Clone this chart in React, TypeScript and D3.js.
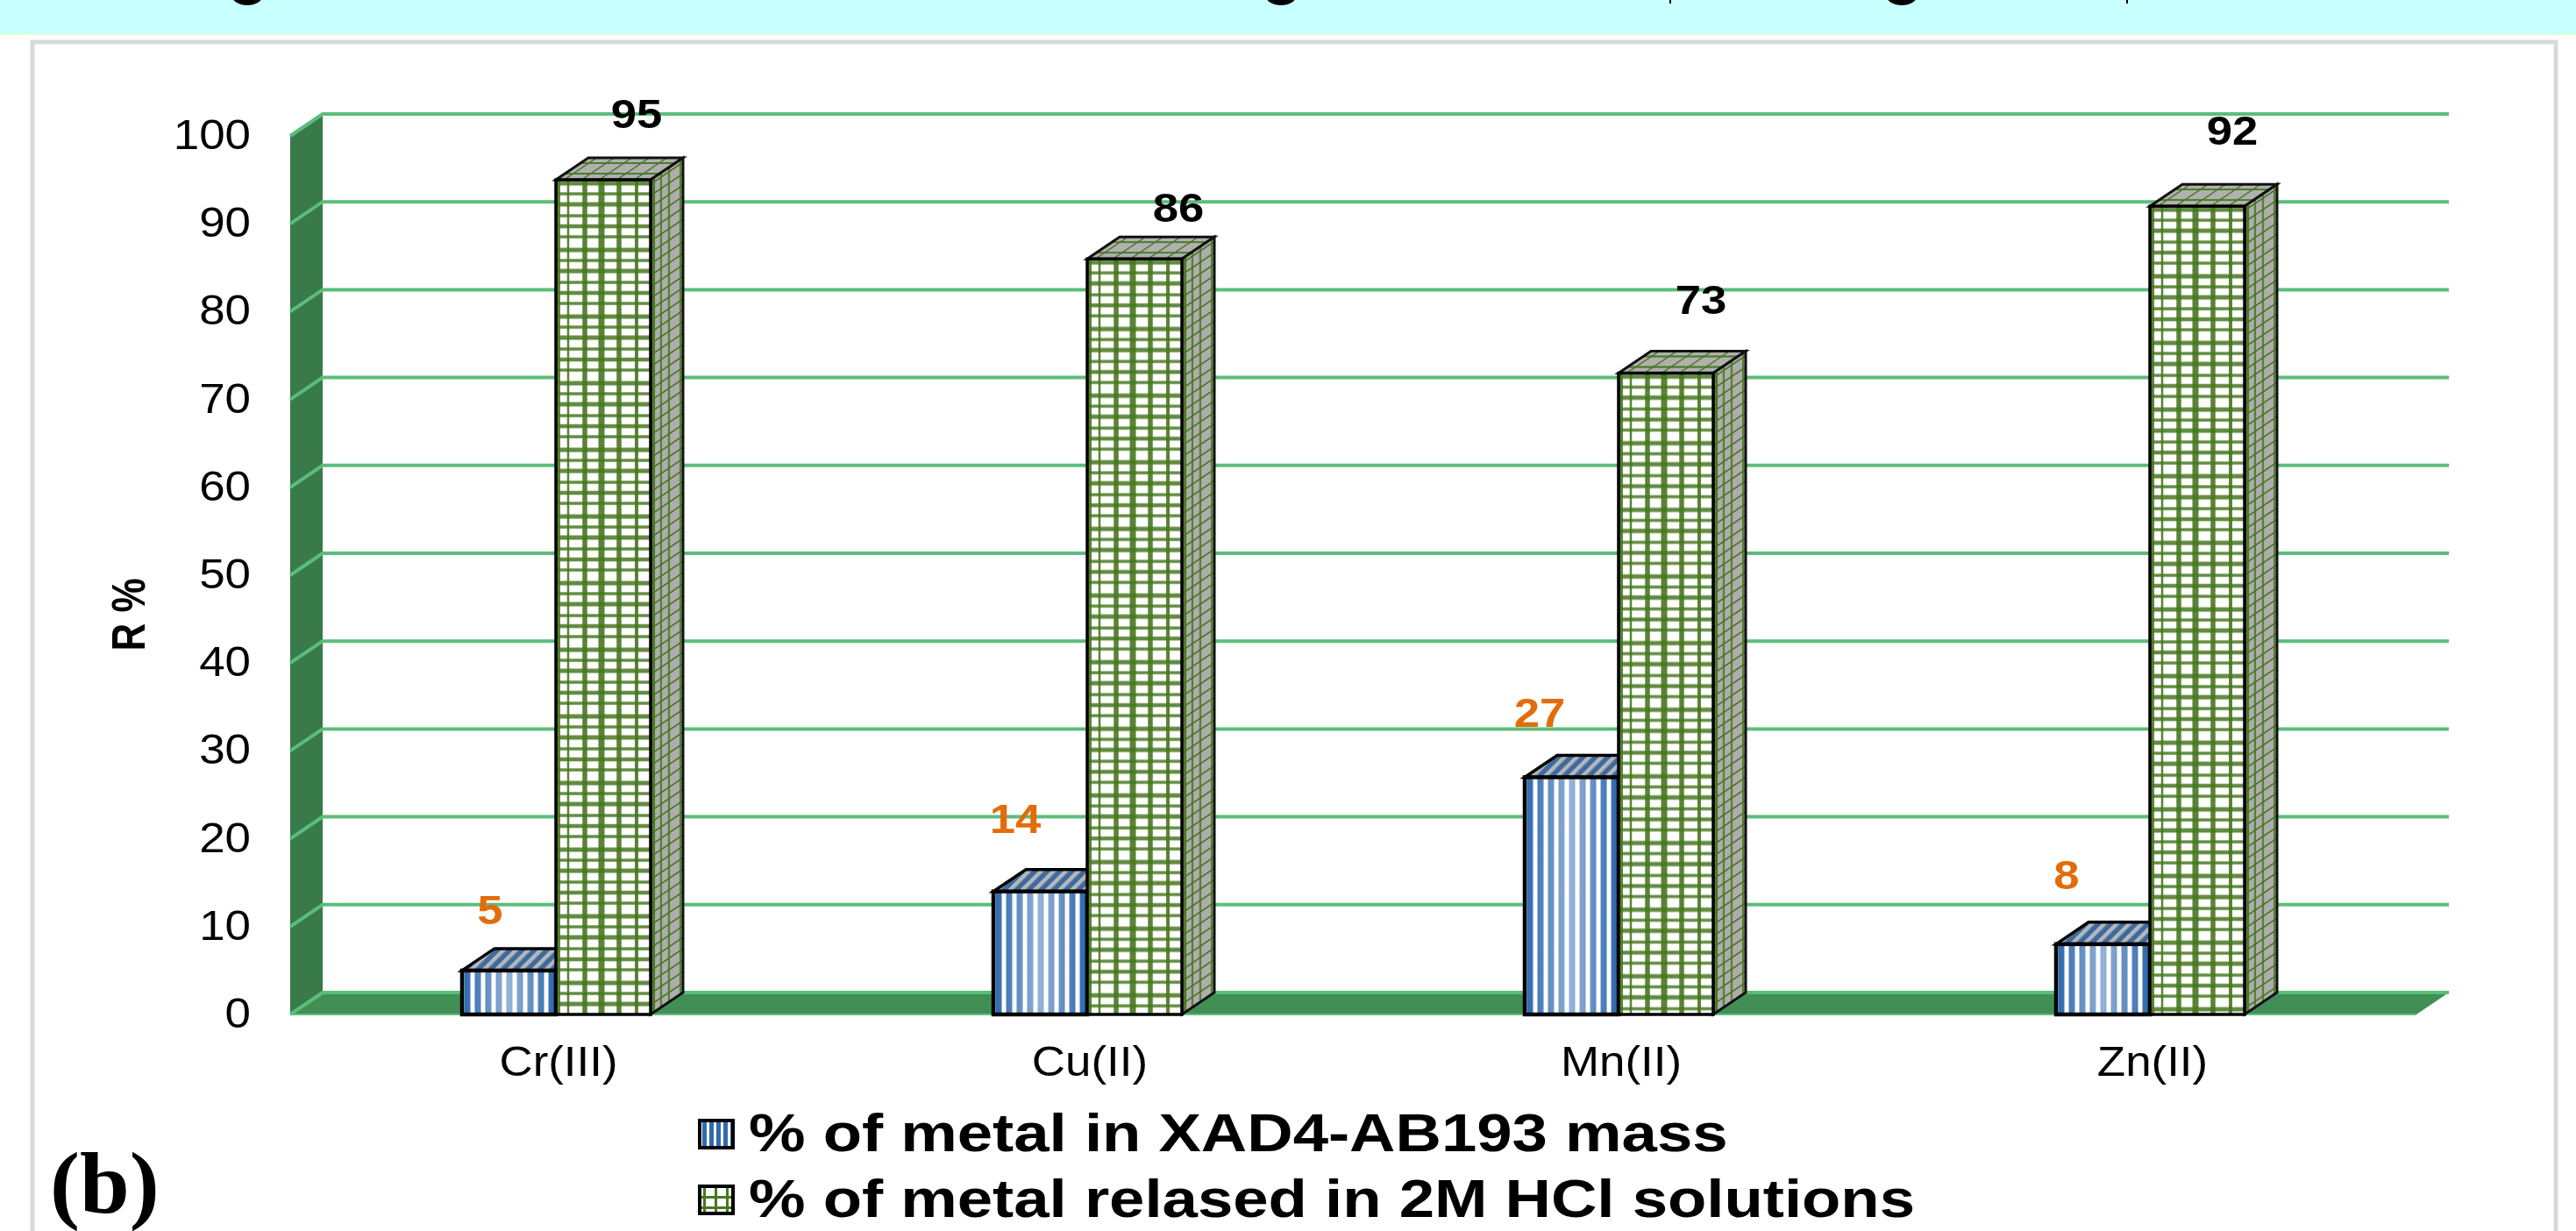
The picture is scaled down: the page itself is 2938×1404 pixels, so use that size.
import React from "react";
import * as d3 from "d3";

const categories = ["Cr(III)", "Cu(II)", "Mn(II)", "Zn(II)"];
const metalInMass = [5, 14, 27, 8];
const metalReleased = [95, 86, 73, 92];
const yTicks = [0, 10, 20, 30, 40, 50, 60, 70, 80, 90, 100];
const legendLabels = ["% of metal in XAD4-AB193 mass", "% of metal relased in 2M HCl solutions"];
const panelTag = "(b)";
const yAxisTitle = "R %";

// Hand placement of the value labels, relative to each bar's front top edge.
const massLabelNudgeX = [-75, -82, -90, -95];
const massLabelNudgeY = [-53, -67, -57, -63];
const releasedLabelNudgeX = [92, 104, 94, 94];
const releasedLabelNudgeY = [-59, -42, -68, -70];

// Bottoms of the heading glyphs that run off the top of the page.
const headingDescenders = [282, 1461, 2169];
const headingStems = [1905, 2426];

const WIDTH = 2938;
const HEIGHT = 1404;
const DEPTH_X = 37;
const DEPTH_Y = 25;
const BAR_W = 107;
const PLOT_LEFT = 331;
const PLOT_RIGHT = 2756;
const FONT = "'Liberation Sans', Arial, sans-serif";

const y = d3.scaleLinear().domain([0, 100]).range([1157, 155]);
const x = d3.scalePoint<string>().domain(categories).range([634, 2452]);

const poly = d3.line<[number, number]>();
const quad = (pts: [number, number][]) => poly(pts) + "Z";

const GREEN_LINE = "#47771f";
const verticals: [number, number][] = [[3, 4], [14, 2.5], [33, 5.5], [52, 7], [72, 5.5], [92, 4]];
const horizontals: [number, number][] = [[4, 5], [16, 3.5], [28, 5], [41, 3.5], [53, 4.5], [65, 3.5]];

function Txt({ x: tx, y: ty, sx = 1, rotate = 0, size, anchor = "middle", weight = "normal", fill = "#000", family = FONT, children }: any) {
  return (
    <text
      transform={`translate(${tx},${ty}) scale(${sx},1) rotate(${rotate})`}
      fontFamily={family}
      fontSize={size}
      fontWeight={weight}
      textAnchor={anchor}
      fill={fill}
    >
      {children}
    </text>
  );
}

function Defs() {
  return (
    <defs>
      <pattern id="blueStripes" width={12} height={12} patternUnits="userSpaceOnUse">
        <rect width={12} height={12} fill="#ffffff" />
        <rect x={2.5} width={7} height={12} fill="#2a66ae" />
      </pattern>
      <linearGradient id="blueSheen" x1="0" x2="1" y1="0" y2="0">
        <stop offset="0" stopColor="#fff" stopOpacity={0} />
        <stop offset="0.5" stopColor="#fff" stopOpacity={0.5} />
        <stop offset="1" stopColor="#fff" stopOpacity={0} />
      </linearGradient>
      <pattern id="blueTop" width={10} height={10} patternUnits="userSpaceOnUse" patternTransform="rotate(-45)">
        <rect width={10} height={10} fill="#3f6a9c" />
        <rect y={0} width={10} height={4.5} fill="#b4b8bd" />
      </pattern>
      <pattern id="greenPlaid" width={108} height={76} patternUnits="userSpaceOnUse">
        <rect width={108} height={76} fill="#fff" />
        {verticals.map(([p, w]) => (
          <rect key={"v" + p} x={p - w / 2} width={w} height={76} fill={GREEN_LINE} opacity={0.9} />
        ))}
        {horizontals.map(([p, w]) => (
          <rect key={"h" + p} y={p - w / 2} width={108} height={w} fill={GREEN_LINE} opacity={0.85} />
        ))}
      </pattern>
      <pattern id="greenSide" width={37} height={26} patternUnits="userSpaceOnUse" patternTransform={`skewY(${(-Math.atan2(DEPTH_Y, DEPTH_X) * 180) / Math.PI})`}>
        <rect width={37} height={26} fill="#adadad" />
        <rect x={2} width={3} height={26} fill={GREEN_LINE} />
        <rect x={11} width={2} height={26} fill={GREEN_LINE} />
        <rect x={20} width={2} height={26} fill={GREEN_LINE} />
        <rect x={33} width={2} height={26} fill={GREEN_LINE} />
        <rect y={4} width={37} height={2} fill={GREEN_LINE} />
        <rect y={17} width={37} height={2} fill={GREEN_LINE} />
      </pattern>
      <pattern id="greenTop" width={20} height={12} patternUnits="userSpaceOnUse" patternTransform={`skewX(${-(Math.atan2(DEPTH_X, DEPTH_Y) * 180) / Math.PI})`}>
        <rect width={20} height={12} fill="#b0b0b0" />
        <rect x={8} width={2.5} height={12} fill={GREEN_LINE} />
        <rect y={4} width={20} height={2} fill={GREEN_LINE} />
      </pattern>
      <pattern id="swatchBlue" width={8} height={8} patternUnits="userSpaceOnUse">
        <rect width={8} height={8} fill="#fff" />
        <rect x={1} width={5} height={8} fill="#2f6bb0" />
      </pattern>
      <pattern id="swatchGreen" width={13} height={12} patternUnits="userSpaceOnUse">
        <rect width={13} height={12} fill="#fff" />
        <rect x={9} width={3} height={12} fill={GREEN_LINE} />
        <rect y={8} width={13} height={3} fill={GREEN_LINE} />
      </pattern>
    </defs>
  );
}

function Frame() {
  return (
    <g>
      <rect width={WIDTH} height={38} fill="#c8ffff" />
      <rect y={38} width={WIDTH} height={2} fill="#dcffdc" />
      {headingDescenders.map((cx) => (
        <ellipse key={cx} cx={cx} cy={-4} rx={17} ry={10} fill="#000" />
      ))}
      {headingStems.map((sx) => (
        <rect key={sx} x={sx - 1} y={0} width={2} height={4} fill="#000" />
      ))}
      <rect x={37} y={48} width={2878} height={1380} fill="#fff" stroke="#d9d9d9" strokeWidth={5} />
    </g>
  );
}

function Walls() {
  const backLeft = PLOT_LEFT + DEPTH_X;
  const backRight = PLOT_RIGHT + DEPTH_X;
  return (
    <g>
      <path
        d={quad([[PLOT_LEFT, y(100)], [backLeft, y(100) - DEPTH_Y], [backLeft, y(0) - DEPTH_Y], [PLOT_LEFT, y(0)]])}
        fill="#387a4a"
      />
      <path
        d={quad([[PLOT_LEFT, y(0)], [PLOT_RIGHT, y(0)], [backRight, y(0) - DEPTH_Y], [backLeft, y(0) - DEPTH_Y]])}
        fill="#418f55"
      />
      {yTicks.map((t) => (
        <path
          key={t}
          d={poly([[PLOT_LEFT, y(t)], [backLeft, y(t) - DEPTH_Y], [backRight, y(t) - DEPTH_Y]]) as string}
          fill="none"
          stroke="#5cbd7b"
          strokeWidth={4}
        />
      ))}
      <line x1={PLOT_LEFT} x2={PLOT_RIGHT} y1={y(0)} y2={y(0)} stroke="#5cbd7b" strokeWidth={2} />
    </g>
  );
}

function MassBar({ i }: { i: number }) {
  const c = x(categories[i]) as number;
  const left = c - BAR_W;
  const top = y(metalInMass[i]);
  const base = y(0);
  return (
    <g>
      <path
        d={quad([[left, top], [left + DEPTH_X, top - DEPTH_Y], [c + DEPTH_X, top - DEPTH_Y], [c, top]])}
        fill="url(#blueTop)"
        stroke="#000"
        strokeWidth={3.5}
      />
      <g transform={`translate(${left},0)`}>
        <rect y={top} width={BAR_W} height={base - top} fill="url(#blueStripes)" />
        <rect y={top} width={BAR_W} height={base - top} fill="url(#blueSheen)" />
        <rect y={top} width={BAR_W} height={base - top} fill="none" stroke="#000" strokeWidth={4.5} />
      </g>
    </g>
  );
}

function ReleasedBar({ i }: { i: number }) {
  const c = x(categories[i]) as number;
  const top = y(metalReleased[i]);
  const base = y(0);
  const w = BAR_W + 1;
  return (
    <g>
      <g transform={`translate(${c},${top})`}>
        <path
          d={quad([[0, 0], [DEPTH_X, -DEPTH_Y], [w + DEPTH_X, -DEPTH_Y], [w, 0]])}
          fill="url(#greenTop)"
          stroke="#111"
          strokeWidth={3}
        />
      </g>
      <g transform={`translate(${c + w},${top})`}>
        <path
          d={quad([[0, 0], [DEPTH_X, -DEPTH_Y], [DEPTH_X, base - top - DEPTH_Y], [0, base - top]])}
          fill="url(#greenSide)"
          stroke="#111"
          strokeWidth={3}
        />
      </g>
      <g transform={`translate(${c},${top})`}>
        <rect width={w} height={base - top} fill="url(#greenPlaid)" stroke="none" />
        <rect width={w} height={base - top} fill="none" stroke="#000" strokeWidth={3.5} />
      </g>
    </g>
  );
}

export default function App() {
  return (
    <svg
      width={WIDTH}
      height={HEIGHT}
      viewBox={`0 0 ${WIDTH} ${HEIGHT}`}
      style={{ position: "fixed", left: 0, top: 0, display: "block", background: "#fff" }}
    >
      <Defs />
      <Frame />
      <Walls />
      {categories.map((_, i) => (
        <MassBar key={"m" + i} i={i} />
      ))}
      {categories.map((_, i) => (
        <ReleasedBar key={"r" + i} i={i} />
      ))}

      {yTicks.map((t) => (
        <Txt key={t} x={286} y={y(t) + 15} sx={1.08} size={49} anchor="end">
          {t}
        </Txt>
      ))}
      {categories.map((name) => (
        <Txt key={name} x={(x(name) as number) + 3} y={1227} sx={1.08} size={49}>
          {name}
        </Txt>
      ))}
      {metalInMass.map((v, i) => (
        <Txt
          key={"ml" + i}
          x={(x(categories[i]) as number) + massLabelNudgeX[i]}
          y={y(v) + massLabelNudgeY[i]}
          sx={1.12}
          size={47}
          weight="bold"
          fill="#e36c0a"
        >
          {v}
        </Txt>
      ))}
      {metalReleased.map((v, i) => (
        <Txt
          key={"rl" + i}
          x={(x(categories[i]) as number) + releasedLabelNudgeX[i]}
          y={y(v) + releasedLabelNudgeY[i]}
          sx={1.12}
          size={47}
          weight="bold"
        >
          {v}
        </Txt>
      ))}

      <Txt x={165} y={701} sx={1.2} rotate={-90} size={44} weight="bold">
        {yAxisTitle}
      </Txt>

      <rect x={798} y={1278} width={38} height={31} fill="url(#swatchBlue)" stroke="#000" strokeWidth={4} />
      <rect x={798} y={1353} width={38} height={31} fill="url(#swatchGreen)" stroke="#000" strokeWidth={4} />
      <Txt x={854} y={1313} sx={1.17} size={62} anchor="start" weight="bold">
        {legendLabels[0]}
      </Txt>
      <Txt x={854} y={1388} sx={1.17} size={62} anchor="start" weight="bold">
        {legendLabels[1]}
      </Txt>

      <Txt x={57} y={1383} sx={1.02} size={100} anchor="start" weight="bold" family="'Liberation Serif', serif">
        {panelTag}
      </Txt>
    </svg>
  );
}
